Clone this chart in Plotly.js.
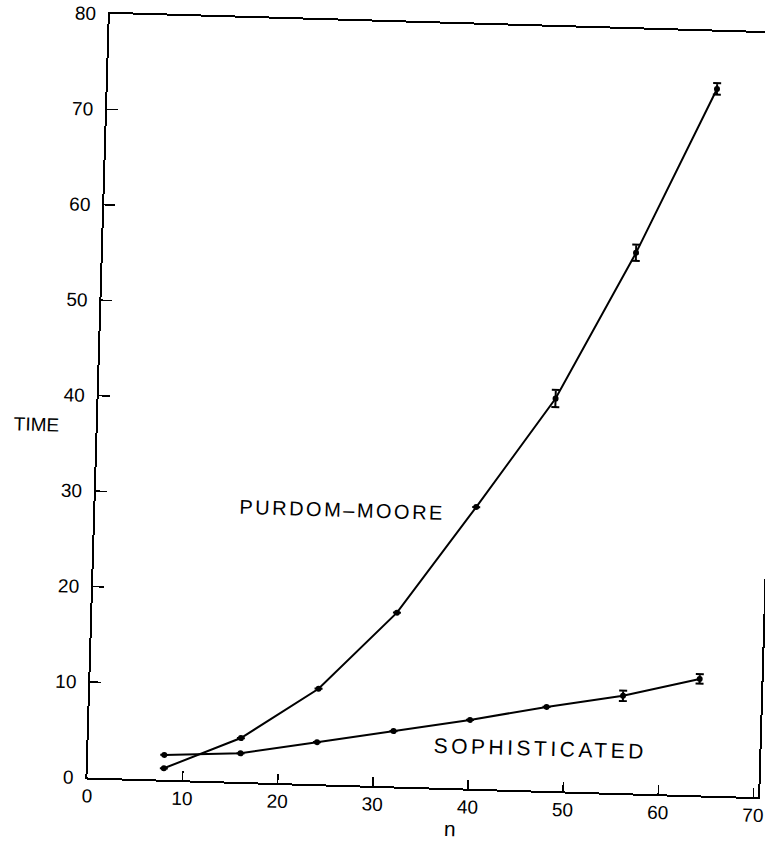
<!DOCTYPE html>
<html>
<head>
<meta charset="utf-8">
<script src="https://cdn.plot.ly/plotly-3.0.1.min.js"></script>
<style>
  html, body { margin: 0; padding: 0; background: #ffffff; overflow: hidden; width: 765px; height: 841px; }
  #chart { position: absolute; left: 0; top: 0; width: 820px; height: 841px;
           transform-origin: 382.5px 420.5px; transform: rotate(1.68deg); }
</style>
</head>
<body>
<div id="chart"></div>
<script>
// ---- data ----
const nValues       = [8, 16, 24, 32, 40, 48, 56, 64];
const purdomMoore   = [1.2, 4.6, 10.0, 18.2, 29.5, 41.1, 56.6, 74.0];
const sophisticated = [2.6, 3.0, 4.4, 5.8, 7.2, 8.8, 10.2, 12.2];
const purdomErr     = [null, null, null, null, null, 0.9, 0.85, 0.6];
const sophErr       = [null, null, null, null, null, null, 0.55, 0.5];
const xTickVals     = [0, 10, 20, 30, 40, 50, 60, 70];
const yTickVals     = [0, 10, 20, 30, 40, 50, 60, 70, 80];
const seriesNames   = ["PURDOM–MOORE", "SOPHISTICATED"];
const xLabel        = "n";
const yLabel        = "TIME";

const FONT = "Liberation Sans, Arial, Helvetica, sans-serif";

function lineTrace(yv, err, name) {
  return {
    type: "scatter", mode: "lines+markers", name: name,
    x: nValues, y: yv,
    line: { color: "#000", width: 2 },
    marker: { color: "#000", size: 6 },
    error_y: { type: "data", array: err, visible: true, color: "#000", thickness: 2, width: 4 },
    cliponaxis: false, showlegend: false
  };
}

const data = [
  lineTrace(purdomMoore, purdomErr, seriesNames[0]),
  lineTrace(sophisticated, sophErr, seriesNames[1])
];

const axisCommon = {
  showgrid: false, zeroline: false,
  showline: true, linecolor: "#000", linewidth: 2, mirror: true,
  ticks: "inside", tickcolor: "#000", tickwidth: 1.5,
  tickfont: { family: FONT, size: 19, color: "#000" },
  fixedrange: true
};

const layout = {
  width: 820, height: 841,
  margin: { l: 98, r: 51, t: 22, b: 55, autoexpand: false },
  paper_bgcolor: "#fff", plot_bgcolor: "#fff",
  xaxis: Object.assign({}, axisCommon, {
    range: [0, 70.5], tickvals: xTickVals, ticktext: xTickVals.map(String),
    ticklen: 9, ticklabelstandoff: 0
  }),
  yaxis: Object.assign({}, axisCommon, {
    range: [0, 80], tickvals: yTickVals, ticktext: yTickVals.map(String),
    ticklen: 11, ticklabelstandoff: 8
  }),
  annotations: [
    { x: 25.9, y: 28.8, xref: "x", yref: "y", text: seriesNames[0], showarrow: false,
      xanchor: "center", yanchor: "middle", font: { family: FONT, size: 20, color: "#000" } },
    { x: 47.5, y: 4.4, xref: "x", yref: "y", text: seriesNames[1], showarrow: false,
      xanchor: "center", yanchor: "middle", font: { family: FONT, size: 21, color: "#000" } },
    { x: -0.092, y: 0.46, xref: "paper", yref: "paper", text: yLabel, showarrow: false,
      xanchor: "center", yanchor: "middle", font: { family: FONT, size: 19, color: "#000" } },
    { x: 0.543, y: -0.0525, xref: "paper", yref: "paper", text: xLabel, showarrow: false,
      xanchor: "center", yanchor: "middle", font: { family: FONT, size: 21, color: "#000" } }
  ]
};

Plotly.newPlot("chart", data, layout, { staticPlot: true, displayModeBar: false }).then(function () {
  const spacing = ["2.5px", "3.5px"];
  const texts = document.querySelectorAll("#chart .annotation-text");
  for (let i = 0; i < 2 && i < texts.length; i++) {
    texts[i].style.letterSpacing = spacing[i];
  }
});
</script>
</body>
</html>
